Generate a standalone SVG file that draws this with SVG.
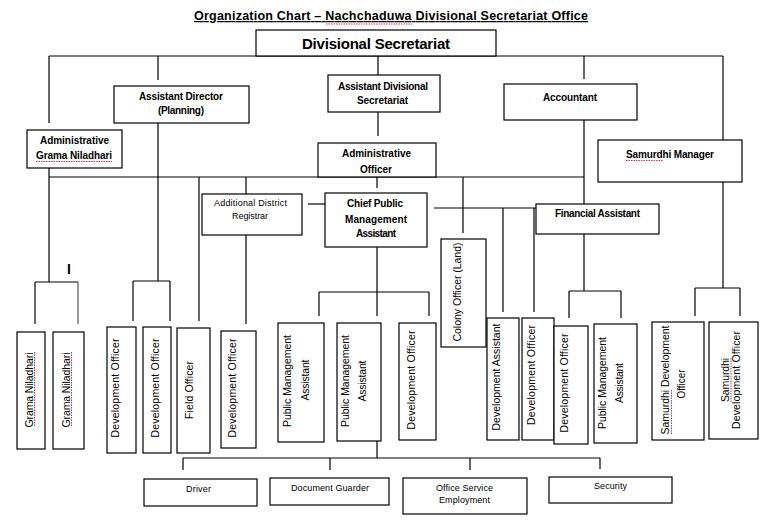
<svg xmlns="http://www.w3.org/2000/svg" width="765" height="525" viewBox="0 0 765 525">
<style>
.b{fill:#fff;stroke:#000;stroke-width:1.2}
.c line{stroke:#000;stroke-width:1.2}
text{font-family:"Liberation Sans",Arial,sans-serif;fill:#000;text-anchor:middle}
.t{font-size:10px;font-weight:bold}
.s{font-size:9px}
.v{font-size:10.5px}
.sq{stroke:#e03030;stroke-width:1;stroke-dasharray:1.5 1;fill:none}
</style>
<rect width="765" height="525" fill="#fff"/>
<text x="391" y="20" font-size="12.5" font-weight="bold" text-decoration="underline" textLength="394">Organization Chart – Nachchaduwa Divisional Secretariat Office</text>

<g class="c" id="connectors">
<line x1="49" y1="56" x2="723" y2="56"/>
<line x1="49" y1="56" x2="49" y2="123"/>
<line x1="158" y1="56" x2="158" y2="80"/>
<line x1="378" y1="56" x2="378" y2="75"/>
<line x1="584" y1="56" x2="584" y2="79"/>
<line x1="723" y1="56" x2="723" y2="140"/>
<line x1="378" y1="112" x2="378" y2="136"/>
<line x1="158" y1="123" x2="158" y2="281"/>
<line x1="133" y1="281" x2="170" y2="281"/>
<line x1="133" y1="281" x2="133" y2="321"/>
<line x1="170" y1="281" x2="170" y2="321"/>
<line x1="49" y1="168" x2="49" y2="282"/>
<line x1="35" y1="282" x2="78" y2="282"/>
<line x1="35" y1="282" x2="35" y2="324"/>
<line x1="78" y1="282" x2="78" y2="324" style="stroke:#555"/>
<line x1="49" y1="177" x2="584" y2="177"/>
<line x1="199" y1="177" x2="199" y2="321"/>
<line x1="246" y1="177" x2="246" y2="194"/>
<line x1="246" y1="235" x2="246" y2="324"/>
<line x1="377" y1="177" x2="377" y2="188"/>
<line x1="463" y1="177" x2="463" y2="233"/>
<line x1="584" y1="120" x2="584" y2="204"/>
<line x1="308" y1="204" x2="325" y2="204"/>
<line x1="434" y1="208" x2="536" y2="208"/>
<line x1="503" y1="208" x2="503" y2="312"/>
<line x1="534" y1="208" x2="534" y2="312"/>
<line x1="377" y1="247" x2="377" y2="316"/>
<line x1="319" y1="292" x2="429" y2="292"/>
<line x1="319" y1="292" x2="319" y2="316"/>
<line x1="429" y1="292" x2="429" y2="316"/>
<line x1="584" y1="234" x2="584" y2="291"/>
<line x1="569" y1="291" x2="621" y2="291"/>
<line x1="569" y1="291" x2="569" y2="318"/>
<line x1="621" y1="291" x2="621" y2="318"/>
<line x1="723" y1="182" x2="723" y2="288"/>
<line x1="695" y1="288" x2="740" y2="288"/>
<line x1="695" y1="288" x2="695" y2="316"/>
<line x1="740" y1="288" x2="740" y2="316"/>
<line x1="377" y1="441" x2="377" y2="458"/>
<line x1="183" y1="458" x2="600" y2="458"/>
<line x1="183" y1="458" x2="183" y2="470"/>
<line x1="330" y1="458" x2="330" y2="470"/>
<line x1="470" y1="458" x2="470" y2="470"/>
<line x1="600" y1="458" x2="600" y2="469"/>
</g>

<text x="69" y="274" font-size="14" font-weight="bold">I</text>

<g id="divisional-secretariat"><rect class="b" x="256" y="30" width="240" height="26"/><text x="376" y="49" font-size="15" font-weight="bold" textLength="148">Divisional Secretariat</text></g>
<g id="assistant-director"><rect class="b" x="114" y="86" width="135" height="37"/><text class="t" x="181" y="100" textLength="84">Assistant Director</text><text class="t" x="181" y="114" textLength="46">(Planning)</text></g>
<g id="assistant-divisional-secretariat"><rect class="b" x="328" y="75" width="112" height="37"/><text class="t" x="383" y="90" textLength="90">Assistant Divisional</text><text class="t" x="382.5" y="104" textLength="51">Secretariat</text></g>
<g id="accountant"><rect class="b" x="504" y="84" width="133" height="36"/><text class="t" x="570" y="101" textLength="54">Accountant</text></g>
<g id="administrative-grama-niladhari"><rect class="b" x="27" y="130" width="95" height="38"/><text class="t" x="74.5" y="144" textLength="69">Administrative</text><text class="t" x="74" y="159" textLength="76">Grama Niladhari</text></g>
<g id="samurdhi-manager"><rect class="b" x="598" y="140" width="144" height="42"/><text class="t" x="670" y="158" textLength="88">Samurdhi Manager</text></g>
<g id="administrative-officer"><rect class="b" x="318" y="143" width="118" height="34"/><text class="t" x="376.5" y="157" textLength="69">Administrative</text><text class="t" x="376" y="173" textLength="32">Officer</text></g>
<g id="additional-district-registrar"><rect class="b" x="202" y="194" width="100" height="41"/><text class="s" x="250.5" y="206" textLength="73">Additional  District</text><text class="s" x="250" y="219" textLength="36">Registrar</text></g>
<g id="chief-public-management-assistant"><rect class="b" x="325" y="193" width="102" height="54"/><text class="t" x="375" y="207" textLength="56">Chief Public</text><text class="t" x="376" y="223" textLength="62">Management</text><text class="t" x="376" y="237" textLength="40">Assistant</text></g>
<g id="financial-assistant"><rect class="b" x="536" y="204" width="123" height="30"/><text class="t" x="597.5" y="217" textLength="85">Financial Assistant</text></g>
<g id="colony-officer"><rect class="b" x="441" y="239" width="45" height="108"/><text class="v" transform="translate(461,292) rotate(-90)" textLength="99">Colony Officer (Land)</text></g>

<g id="grama-niladhari-1"><rect class="b" x="17" y="332" width="28" height="117"/><text class="v" transform="translate(33,390) rotate(-90)" textLength="75">Grama  Niladhari</text></g>
<g id="grama-niladhari-2"><rect class="b" x="53" y="332" width="31" height="117"/><text class="v" transform="translate(70,390) rotate(-90)" textLength="75">Grama  Niladhari</text></g>
<g id="development-officer-1"><rect class="b" x="107" y="327" width="29" height="126"/><text class="v" transform="translate(119,388) rotate(-90)" textLength="99">Development Officer</text></g>
<g id="development-officer-2"><rect class="b" x="143" y="327" width="28" height="126"/><text class="v" transform="translate(159,388) rotate(-90)" textLength="99">Development Officer</text></g>
<g id="field-officer"><rect class="b" x="177" y="328" width="33" height="125"/><text class="v" transform="translate(193,390) rotate(-90)" textLength="58">Field Officer</text></g>
<g id="development-officer-3"><rect class="b" x="221" y="331" width="35" height="117"/><text class="v" transform="translate(236,388) rotate(-90)" textLength="99">Development Officer</text></g>
<g id="public-management-assistant-1"><rect class="b" x="278" y="323" width="46" height="119"/><text class="v" transform="translate(291,381) rotate(-90)" textLength="92">Public Management</text><text class="v" transform="translate(309,380) rotate(-90)" textLength="41">Assistant</text></g>
<g id="public-management-assistant-2"><rect class="b" x="337" y="323" width="44" height="118"/><text class="v" transform="translate(349,381) rotate(-90)" textLength="92">Public Management</text><text class="v" transform="translate(366,381) rotate(-90)" textLength="41">Assistant</text></g>
<g id="development-officer-4"><rect class="b" x="399" y="323" width="37" height="117"/><text class="v" transform="translate(415,380) rotate(-90)" textLength="99">Development Officer</text></g>
<g id="development-assistant"><rect class="b" x="487" y="318" width="32" height="122"/><text class="v" transform="translate(500,377) rotate(-90)" textLength="107">Development  Assistant</text></g>
<g id="development-officer-5"><rect class="b" x="522" y="318" width="32" height="122"/><text class="v" transform="translate(535,375) rotate(-90)" textLength="100">Development Officer</text></g>
<g id="development-officer-6"><rect class="b" x="554" y="326" width="34" height="118"/><text class="v" transform="translate(568,383) rotate(-90)" textLength="99">Development Officer</text></g>
<g id="public-management-assistant-3"><rect class="b" x="594" y="324" width="43" height="119"/><text class="v" transform="translate(606,383) rotate(-90)" textLength="92">Public Management</text><text class="v" transform="translate(623,383) rotate(-90)" textLength="40">Assistant</text></g>
<g id="samurdhi-development-officer-1"><rect class="b" x="652" y="322" width="52" height="118"/><text class="v" transform="translate(669,380) rotate(-90)" textLength="109">Samurdhi Development</text><text class="v" transform="translate(685,384) rotate(-90)" textLength="29" lengthAdjust="spacingAndGlyphs">Officer</text></g>
<g id="samurdhi-development-officer-2"><rect class="b" x="709" y="322" width="49" height="117"/><text class="v" transform="translate(729,380) rotate(-90)" textLength="44">Samurdhi</text><text class="v" transform="translate(740,380) rotate(-90)" textLength="98">Development Officer</text></g>

<g id="driver"><rect class="b" x="144" y="479" width="113" height="27"/><text class="s" x="198.5" y="492" textLength="25">Driver</text></g>
<g id="document-guarder"><rect class="b" x="270" y="478" width="119" height="27"/><text class="s" x="330" y="491" textLength="78">Document  Guarder</text></g>
<g id="office-service-employment"><rect class="b" x="403" y="478" width="124" height="36"/><text class="s" x="464.5" y="491" textLength="57">Office Service</text><text class="s" x="464.5" y="503" textLength="51">Employment</text></g>
<g id="security"><rect class="b" x="549" y="477" width="123" height="26"/><text class="s" x="610.5" y="489" textLength="33">Security</text></g>

<g id="spellcheck-marks">
<line class="sq" x1="326" y1="24" x2="412" y2="24"/>
<line class="sq" x1="36" y1="161.5" x2="112" y2="161.5"/>
<line class="sq" x1="626" y1="160.5" x2="663" y2="160.5"/>
<line class="sq" x1="34.5" y1="352" x2="34.5" y2="427"/>
<line class="sq" x1="71.5" y1="352" x2="71.5" y2="427"/>
<line class="sq" x1="671.5" y1="390" x2="671.5" y2="434"/>
<line class="sq" x1="731" y1="358" x2="731" y2="402"/>
</g>
</svg>
